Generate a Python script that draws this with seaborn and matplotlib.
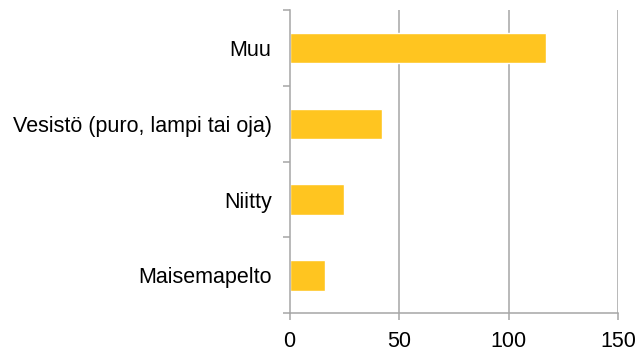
import matplotlib
matplotlib.use("Agg")
import matplotlib.pyplot as plt
import seaborn as sns
import pandas as pd
import numpy as np
from matplotlib.ticker import FixedLocator

categories = ["Muu", "Vesistö (puro, lampi tai oja)", "Niitty", "Maisemapelto"]
values = [117, 42, 25, 16]
x_ticks = [0, 50, 100, 150]

df = pd.DataFrame({"kategoria": categories, "maara": values})

sns.set_theme(style="white")
plt.rcParams["font.family"] = ["Liberation Sans", "DejaVu Sans"]

line_col = "#a6a6a6"
bar_col = "#FFC520"

fig = plt.figure(figsize=(6.38, 3.51), dpi=100)
ax = fig.add_axes([0.454, 0.1074, 0.515, 0.864])

sns.barplot(data=df, y="kategoria", x="maara", orient="h", color=bar_col,
            width=0.4, saturation=1, ax=ax)

ax.set_xlim(0, 150)
ax.set_ylim(len(categories) - 0.5, -0.5)
ax.set_xticks(x_ticks)
ax.set_xlabel("")
ax.set_ylabel("")

for v in x_ticks[1:]:
    ax.axvline(v, color=line_col, linewidth=1.1, zorder=0)

for side in ["top", "right"]:
    ax.spines[side].set_visible(False)
for side in ["left", "bottom"]:
    ax.spines[side].set_color(line_col)
    ax.spines[side].set_linewidth(1.1)

ax.yaxis.set_minor_locator(FixedLocator(np.arange(-0.5, len(categories), 1.0)))
ax.tick_params(axis="y", which="major", length=0, pad=13, labelsize=15.5,
               labelcolor="black")
ax.tick_params(axis="y", which="minor", left=True, length=5, width=1.1,
               color=line_col)
ax.tick_params(axis="x", which="major", bottom=True, length=5, width=1.1,
               color=line_col, pad=8, labelsize=15.5, labelcolor="black")

fig.savefig("out.png", dpi=100)
